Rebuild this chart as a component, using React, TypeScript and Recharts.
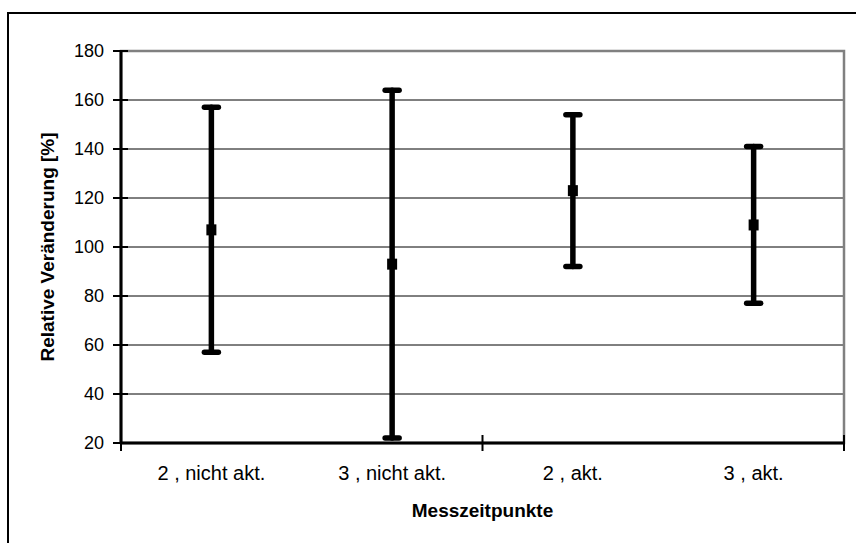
import { ComposedChart, Line, ErrorBar, XAxis, YAxis, CartesianGrid, ReferenceArea } from 'recharts';

// Messwerte: Mittelwert mit Minimum / Maximum
const categories = ['2 , nicht akt.', '3 , nicht akt.', '2 , akt.', '3 , akt.'];
const means = [107, 93, 123, 109];
const lows = [57, 22, 92, 77];
const highs = [157, 164, 154, 141];
const yTicks = [20, 40, 60, 80, 100, 120, 140, 160, 180];

const data = categories.map((name, i) => ({
  name,
  mean: means[i],
  err: [means[i] - lows[i], highs[i] - means[i]],
}));

const font = 'Liberation Sans, Arial, sans-serif';
const X_MARGIN = 22;
const Y_MARGIN = 17;

const YTick = ({ x, y, payload }: any) => (
  <g>
    <line x1={x + Y_MARGIN - 8} x2={x + Y_MARGIN + 7} y1={y} y2={y} stroke="#000" strokeWidth={2} />
    <text x={x} y={y} dy="0.36em" textAnchor="end" fontSize={18} fill="#000" fontFamily={font}>
      {payload.value}
    </text>
  </g>
);

// category label + tick marks on every second category boundary (Excel style)
const XTick = ({ x, y, payload, index }: any) => {
  const half = payload.offset || 0;
  const axisY = y - X_MARGIN;
  const marks: number[] = [];
  if (index % 2 === 0) marks.push(x - half);
  if (index === categories.length - 1 && categories.length % 2 === 0) marks.push(x + half);
  return (
    <g>
      {marks.map((mx, i) => (
        <line key={i} x1={mx} x2={mx} y1={axisY - 8} y2={axisY + 8} stroke="#000" strokeWidth={2} />
      ))}
      <text x={x} y={axisY + 37} textAnchor="middle" fontSize={20} fill="#000" fontFamily={font}>
        {payload.value}
      </text>
    </g>
  );
};

const SquareDot = ({ cx, cy, index }: any) => (
  <rect key={index} x={cx - 5} y={cy - 5.5} width={10} height={11} fill="#000" />
);

const YTitle = ({ viewBox }: any) => (
  <text
    transform={`translate(${viewBox.x + 47}, ${viewBox.y + viewBox.height / 2}) rotate(-90)`}
    textAnchor="middle"
    dy="0.35em"
    fontSize={19}
    fontWeight="bold"
    fill="#000"
    fontFamily={font}
  >
    Relative Veränderung [%]
  </text>
);

export default function App() {
  return (
    <div style={{ position: 'absolute', left: 0, top: 0, width: 856, height: 543, overflow: 'hidden', background: '#fff' }}>
      <div style={{ position: 'absolute', left: 7, top: 12, width: 900, height: 600, border: '2px solid #000' }} />
      <ComposedChart
        width={856}
        height={543}
        data={data}
        margin={{ top: 51, right: 12, left: 0, bottom: 0 }}
        style={{ position: 'absolute', left: 0, top: 0 }}
      >
        <CartesianGrid vertical={false} stroke="#000" strokeWidth={1} />
        {/* grey plot-area border (top + right) */}
        <ReferenceArea y1={yTicks[0]} y2={yTicks[yTicks.length - 1]} fill="none" stroke="#808080" strokeWidth={2.5} />
        <XAxis
          dataKey="name"
          scale="band"
          height={100}
          axisLine={{ stroke: '#000', strokeWidth: 3 }}
          tickLine={false}
          tickSize={0}
          tickMargin={X_MARGIN}
          interval={0}
          tick={<XTick />}
          label={{ value: 'Messzeitpunkte', position: 'insideBottom', offset: 26, fontSize: 19, fontWeight: 'bold', fill: '#000', fontFamily: font }}
        />
        <YAxis
          width={121}
          domain={[20, 180]}
          ticks={yTicks}
          interval={0}
          tickLine={false}
          tickSize={0}
          tickMargin={Y_MARGIN}
          tick={<YTick />}
          axisLine={{ stroke: '#000', strokeWidth: 3 }}
          label={<YTitle />}
        />
        <Line
          dataKey="mean"
          stroke="none"
          isAnimationActive={false}
          dot={<SquareDot />}
          activeDot={false}
        >
          <ErrorBar dataKey="err" direction="y" width={7} stroke="#000" strokeWidth={5.5} strokeLinecap="round" isAnimationActive={false} />
        </Line>
      </ComposedChart>
    </div>
  );
}
